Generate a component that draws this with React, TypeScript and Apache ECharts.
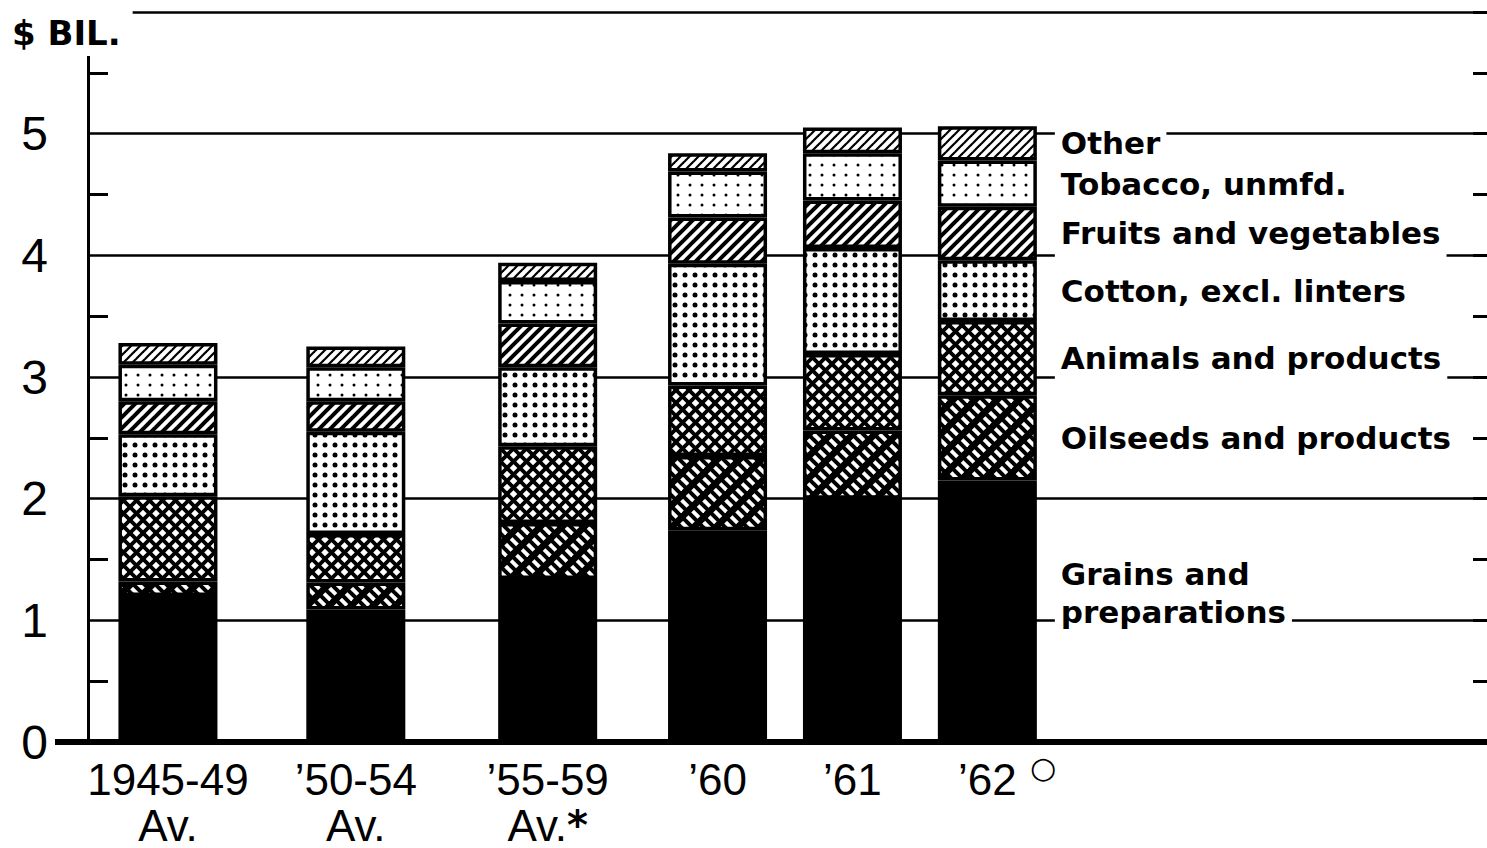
import React, { useEffect, useRef } from 'react';
import * as echarts from 'echarts';

// ---- data ----
const periods = ['1945-49\nAv.', '’50-54\nAv.', '’55-59\nAv.{star|*}', '’60', '’61', '’62'];
const barPositions = [0.8, 2.68, 4.6, 6.3, 7.65, 9.0];
const grains = [1.2, 1.09, 1.34, 1.74, 2.0, 2.15];
const oilseeds = [0.12, 0.22, 0.46, 0.61, 0.56, 0.7];
const animals = [0.7, 0.4, 0.63, 0.58, 0.63, 0.61];
const cotton = [0.51, 0.84, 0.65, 1.0, 0.87, 0.5];
const fruits = [0.27, 0.25, 0.36, 0.38, 0.39, 0.44];
const tobacco = [0.3, 0.28, 0.35, 0.38, 0.39, 0.38];
const other = [0.18, 0.17, 0.15, 0.15, 0.21, 0.28];
const seriesNames = [
  'Grains and\npreparations',
  'Oilseeds and products',
  'Animals and products',
  'Cotton, excl. linters',
  'Fruits and vegetables',
  'Tobacco, unmfd.',
  'Other',
];
const seriesValues = [grains, oilseeds, animals, cotton, fruits, tobacco, other];
const yTickLabels = ['0', '1', '2', '3', '4', '5'];

// ---- patterns ----
function tile(w: number, h: number, draw: (ctx: CanvasRenderingContext2D) => void) {
  const c = document.createElement('canvas');
  c.width = w;
  c.height = h;
  const ctx = c.getContext('2d') as CanvasRenderingContext2D;
  ctx.fillStyle = '#fff';
  ctx.fillRect(0, 0, w, h);
  draw(ctx);
  return { image: c, repeat: 'repeat', imageWidth: w, imageHeight: h } as any;
}
function slash(ctx: CanvasRenderingContext2D, T: number, n: number, width: number, color: string) {
  ctx.strokeStyle = color;
  ctx.lineWidth = width;
  for (let i = -2 * n; i <= 4 * n; i++) {
    const c = (i * T) / n;
    ctx.beginPath();
    ctx.moveTo(c + T, -T);
    ctx.lineTo(c - 2 * T, 2 * T);
    ctx.stroke();
  }
}
function backslash(ctx: CanvasRenderingContext2D, T: number, n: number, width: number, color: string) {
  ctx.strokeStyle = color;
  ctx.lineWidth = width;
  for (let i = -3 * n; i <= 3 * n; i++) {
    const c = (i * T) / n;
    ctx.beginPath();
    ctx.moveTo(-T, c - T);
    ctx.lineTo(2 * T, c + 2 * T);
    ctx.stroke();
  }
}
function makePatterns() {
  const solid = '#000';
  const oil = tile(22, 22, (ctx) => {
    ctx.fillStyle = '#000';
    ctx.fillRect(0, 0, 22, 22);
    slash(ctx, 22, 1, 9, '#fff');
    backslash(ctx, 22, 2, 4, '#000');
  });
  const cross = tile(13, 13, (ctx) => {
    slash(ctx, 13, 1, 3.8, '#000');
    backslash(ctx, 13, 1, 3.8, '#000');
  });
  const denseDots = tile(10, 10, (ctx) => {
    ctx.fillStyle = '#000';
    ctx.beginPath();
    ctx.arc(5, 5, 2.5, 0, Math.PI * 2);
    ctx.fill();
  });
  const hatch = tile(11, 11, (ctx) => slash(ctx, 11, 1, 4, '#000'));
  const lightDots = tile(12, 10, (ctx) => {
    ctx.fillStyle = '#000';
    ctx.beginPath();
    ctx.arc(6, 5, 1.5, 0, Math.PI * 2);
    ctx.fill();
  });
  const fine = tile(9, 9, (ctx) => slash(ctx, 9, 1, 2.2, '#000'));
  return [solid, oil, cross, denseDots, hatch, lightDots, fine];
}

export default function App() {
  const ref = useRef<HTMLDivElement>(null);
  useEffect(() => {
    if (!ref.current) return;
    const chart = echarts.init(ref.current, undefined, { renderer: 'svg' });
    const patterns = makePatterns();
    const last = barPositions.length - 1;
    const series = seriesValues.map((vals, si) => ({
      type: 'bar',
      name: seriesNames[si],
      stack: 'total',
      barWidth: 99,
      encode: { x: 1, y: 0 },
      data: vals.map((v, i) =>
        i === last ? { value: [v, barPositions[i]], label: { show: true } } : [v, barPositions[i]]
      ),
      itemStyle: { color: patterns[si], borderColor: '#000', borderWidth: 3.5 },
      label: {
        show: false,
        position: 'right',
        distance: 18,
        formatter: seriesNames[si],
        color: '#000',
        fontFamily: 'DejaVu Sans',
        fontWeight: 'bold',
        fontSize: 31,
        lineHeight: 38,
        backgroundColor: '#fff',
        padding: [2, 6, 8, 6],
        offset: si === 0 ? [0, -18] : [0, 0],
      },
      emphasis: { disabled: true },
    }));

    chart.setOption({
      animation: false,
      backgroundColor: '#fff',
      title: {
        text: '$ BIL.',
        left: 0,
        top: 0,
        padding: [16, 12, 6, 12],
        backgroundColor: '#fff',
        textStyle: { fontFamily: 'DejaVu Sans', fontWeight: 'bold', fontSize: 34, color: '#000' },
      },
      grid: { left: 88, right: 0, top: 12, bottom: 105 },
      xAxis: {
        type: 'value',
        min: 0,
        max: 14,
        axisLine: { show: true, onZero: false, lineStyle: { color: '#000', width: 6 } },
        axisTick: { show: false },
        splitLine: { show: false },
        axisLabel: {
          customValues: barPositions,
          formatter: (v: number) => {
            const idx = barPositions.findIndex((p) => Math.abs(p - v) < 1e-6);
            return idx >= 0 ? periods[idx] : '';
          },
          fontFamily: 'Liberation Sans',
          fontSize: 44,
          lineHeight: 46,
          color: '#000',
          margin: 14,
          rich: {
            star: { fontFamily: 'DejaVu Sans', fontWeight: 'bold', fontSize: 40, color: '#000', lineHeight: 46 },
          },
        },
      },
      yAxis: [
        {
          type: 'value',
          min: 0,
          max: 6,
          interval: 1,
          axisLine: { show: true, onZero: false, lineStyle: { color: '#000', width: 3 } },
          axisTick: { show: false, inside: true },
          minorTick: { show: true, splitNumber: 2, length: 20, lineStyle: { color: '#000', width: 3 } },
          splitLine: { show: true, lineStyle: { color: '#000', width: 2.5 } },
          axisLabel: {
            margin: 0,
            color: '#000',
            fontFamily: 'Liberation Sans',
            fontSize: 48,
            formatter: (v: number) => {
              const t = yTickLabels[v];
              if (t === undefined) return '';
              return v === 0 ? `{n|${t}}{sp|}{dash|}` : `{n|${t}}{gap|}`;
            },
            rich: {
              n: { fontFamily: 'Liberation Sans', fontSize: 48, color: '#000' },
              sp: { width: 7 },
              dash: { width: 33, height: 6, backgroundColor: '#000' },
              gap: { width: 40 },
            },
          },
        },
        {
          type: 'value',
          position: 'right',
          min: 0,
          max: 6,
          interval: 0.5,
          axisLine: { show: false, onZero: false },
          axisTick: { show: true, inside: true, length: 14, lineStyle: { color: '#000', width: 3 } },
          axisLabel: { show: false },
          splitLine: { show: false },
        },
      ],
      graphic: [
        {
          type: 'text',
          left: 1030,
          top: 752,
          style: { text: '○', fontFamily: 'DejaVu Sans', fontSize: 30, fill: '#000' },
        },
      ],
      series,
    } as any);
    return () => chart.dispose();
  }, []);
  return (
    <div
      ref={ref}
      style={{ position: 'absolute', left: 0, top: 0, width: 1487, height: 848, background: '#fff' }}
    />
  );
}
